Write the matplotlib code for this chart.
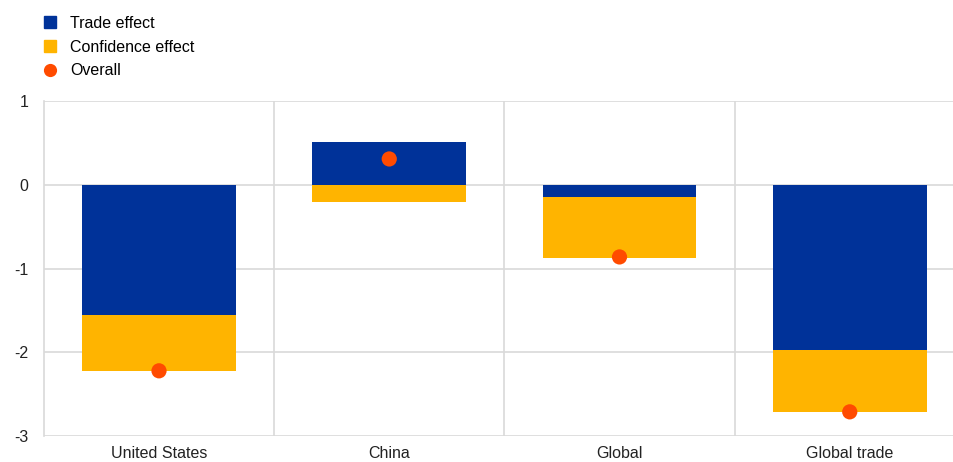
import matplotlib.pyplot as plt
import numpy as np
from matplotlib.patches import Patch
from matplotlib.lines import Line2D

plt.rcParams['font.family'] = ['Liberation Sans', 'DejaVu Sans']

# Data
categories = ["United States", "China", "Global", "Global trade"]
trade_effect = [-1.55, 0.51, -0.14, -1.97]
confidence_effect = [-0.67, -0.20, -0.73, -0.74]
overall = [-2.22, 0.31, -0.86, -2.71]

blue = "#003299"
yellow = "#FFB400"
orange = "#FF4B00"
grid_col = "#D9D9D9"

fig = plt.figure(figsize=(9.54, 4.62), dpi=100)
ax = fig.add_axes([0.046, 0.056, 0.9654, 0.725])

x = np.arange(len(categories))
width = 0.667

# Confidence effect stacks on top of trade effect when both share a sign
conf_bottom = [t if np.sign(t) == np.sign(c) else 0 for t, c in zip(trade_effect, confidence_effect)]

ax.bar(x, trade_effect, width, color=blue, zorder=2)
ax.bar(x, confidence_effect, width, bottom=conf_bottom, color=yellow, zorder=2)
ax.scatter(x, overall, s=120, color=orange, zorder=3, edgecolors="none")

ax.set_xlim(-0.5, len(categories) - 0.5)
ax.set_ylim(-3, 1)
ax.set_yticks([1, 0, -1, -2, -3])
ax.set_yticklabels(["1", "0", "-1", "-2", "-3"])
ax.set_xticks(x)
ax.set_xticklabels(categories)
ax.tick_params(length=0, labelsize=11.5, colors="#222222")
ax.tick_params(axis="x", pad=7)
ax.tick_params(axis="y", pad=11)

# Horizontal gridlines and vertical separators between categories
for yv in [1, 0, -1, -2, -3]:
    ax.axhline(yv, color=grid_col, linewidth=1.2, zorder=1)
for xv in x[:-1] + 0.5:
    ax.axvline(xv, color=grid_col, linewidth=1.2, zorder=1)

for side in ["top", "right", "bottom"]:
    ax.spines[side].set_visible(False)
ax.spines["left"].set_color(grid_col)
ax.spines["left"].set_linewidth(1.2)

handles = [
    Patch(color=blue, label="Trade effect"),
    Patch(color=yellow, label="Confidence effect"),
    Line2D([], [], marker="o", linestyle="none", markersize=9.5,
           markerfacecolor=orange, markeredgecolor="none", label="Overall"),
]
fig.legend(handles=handles, loc="upper left", bbox_to_anchor=(0.034, 0.99),
           frameon=False, fontsize=11.5, handlelength=0.8, handleheight=0.8,
           handletextpad=0.85, labelspacing=0.55, borderaxespad=0.3)

fig.savefig("out.png", dpi=100)
